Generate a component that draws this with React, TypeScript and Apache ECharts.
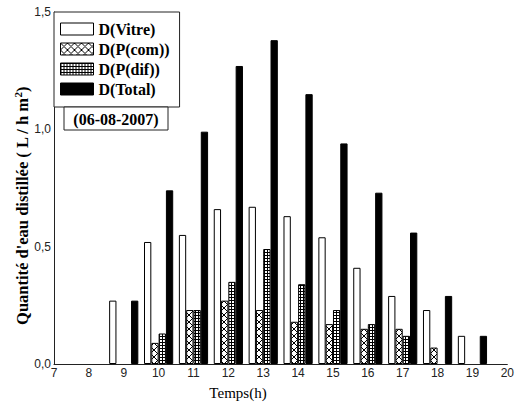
import React, { useEffect, useRef } from "react";
import * as echarts from "echarts";

const hours = [9, 10, 11, 12, 13, 14, 15, 16, 17, 18, 19];
const vitre = [0.27, 0.52, 0.55, 0.66, 0.67, 0.63, 0.54, 0.41, 0.29, 0.23, 0.12];
const pCom = [null, 0.09, 0.23, 0.27, 0.23, 0.18, 0.17, 0.15, 0.15, 0.07, null];
const pDif = [null, 0.13, 0.23, 0.35, 0.49, 0.34, 0.23, 0.17, 0.12, null, null];
const total = [0.27, 0.74, 0.99, 1.27, 1.38, 1.15, 0.94, 0.73, 0.56, 0.29, 0.12];
const seriesNames = ["D(Vitre)", "D(P(com))", "D(P(dif))", "D(Total)"];
const dateLabel = "(06-08-2007)";
const xTitle = "Temps(h)";
const yTitle = "Quantité d'eau distillée ( L / h m{sup|2})";

const SERIF = "Times New Roman, Liberation Serif, DejaVu Serif, serif";

function pairs(vals: (number | null)[]) {
  return hours
    .map((h, i) => (vals[i] == null ? null : [h, vals[i]]))
    .filter((d) => d !== null);
}

function crossPattern() {
  const c = document.createElement("canvas");
  c.width = 7;
  c.height = 7;
  const ctx = c.getContext("2d")!;
  ctx.fillStyle = "#fff";
  ctx.fillRect(0, 0, 7, 7);
  ctx.strokeStyle = "#000";
  ctx.lineWidth = 1;
  ctx.beginPath();
  ctx.moveTo(0, 0);
  ctx.lineTo(7, 7);
  ctx.moveTo(7, 0);
  ctx.lineTo(0, 7);
  ctx.stroke();
  return { image: c, repeat: "repeat", imageWidth: 7, imageHeight: 7 };
}

function gridPattern() {
  const c = document.createElement("canvas");
  c.width = 3;
  c.height = 3;
  const ctx = c.getContext("2d")!;
  ctx.fillStyle = "#fff";
  ctx.fillRect(0, 0, 3, 3);
  ctx.fillStyle = "#000";
  ctx.fillRect(0, 0, 3, 1);
  ctx.fillRect(0, 0, 1, 3);
  return { image: c, repeat: "repeat", imageWidth: 3, imageHeight: 3 };
}

export default function App() {
  const ref = useRef<HTMLDivElement>(null);
  useEffect(() => {
    const chart = echarts.init(ref.current!, null, { renderer: "svg" });
    const barBase = {
      type: "bar",
      barWidth: 7.3,
      barGap: "0%",
      itemStyle: { borderColor: "#000", borderWidth: 1 },
    };
    chart.setOption({
      animation: false,
      backgroundColor: "#fff",
      grid: { left: 54, right: 7, top: 12, bottom: 45, containLabel: false },
      xAxis: {
        type: "value",
        min: 7,
        max: 20,
        interval: 1,
        splitLine: { show: false },
        axisTick: { show: false },
        axisLine: { lineStyle: { color: "#222", width: 1 } },
        axisLabel: {
          margin: 3,
          color: "#222",
          fontFamily: "Liberation Sans",
          fontSize: 12,
        },
      },
      yAxis: {
        type: "value",
        min: 0,
        max: 1.5,
        interval: 0.5,
        splitLine: { show: false },
        axisTick: { show: false },
        axisLine: { show: true, lineStyle: { color: "#222", width: 1 } },
        axisLabel: {
          margin: 3,
          color: "#222",
          fontFamily: "Liberation Sans",
          fontSize: 12,
          formatter: (v: number) => v.toFixed(1).replace(".", ","),
        },
      },
      legend: {
        orient: "vertical",
        left: 54,
        top: 12,
        padding: [8, 10, 9, 6],
        itemWidth: 33,
        itemHeight: 12,
        itemGap: 2,
        itemStyle: { borderColor: "#000", borderWidth: 1 },
        backgroundColor: "#fff",
        borderColor: "#222",
        borderWidth: 1,
        textStyle: {
          fontFamily: SERIF,
          fontWeight: "bold",
          fontSize: 16,
          lineHeight: 18,
          color: "#000",
        },
        data: seriesNames.map((n) => ({ name: n, icon: "rect" })),
      },
      graphic: [
        {
          type: "rect",
          shape: { x: 64, y: 107, width: 104, height: 23 },
          style: { fill: "#fff", stroke: "#222", lineWidth: 1 },
          z: 100,
        },
        {
          type: "text",
          x: 116,
          y: 119,
          style: {
            text: dateLabel,
            fill: "#000",
            fontFamily: SERIF,
            fontWeight: "bold",
            fontSize: 16,
            align: "center",
            verticalAlign: "middle",
          },
          z: 101,
        },
        {
          type: "text",
          x: 22,
          y: 206,
          rotation: Math.PI / 2,
          style: {
            text: yTitle,
            fill: "#000",
            fontFamily: SERIF,
            fontWeight: "bold",
            fontSize: 16.5,
            align: "center",
            verticalAlign: "middle",
            rich: {
              sup: {
                fontFamily: SERIF,
                fontWeight: "bold",
                fontSize: 11,
                verticalAlign: "top",
                padding: [0, 0, 9, 0],
              },
            },
          },
        },
        {
          type: "text",
          x: 238,
          y: 393,
          style: {
            text: xTitle,
            fill: "#000",
            fontFamily: SERIF,
            fontSize: 15,
            align: "center",
            verticalAlign: "middle",
          },
        },
      ],
      series: [
        { ...barBase, name: seriesNames[0], data: pairs(vitre), itemStyle: { ...barBase.itemStyle, color: "#fff" } },
        { ...barBase, name: seriesNames[1], data: pairs(pCom), itemStyle: { ...barBase.itemStyle, color: crossPattern() } },
        { ...barBase, name: seriesNames[2], data: pairs(pDif), itemStyle: { ...barBase.itemStyle, color: gridPattern() } },
        { ...barBase, name: seriesNames[3], data: pairs(total), itemStyle: { ...barBase.itemStyle, color: "#000" } },
      ],
    });
    return () => chart.dispose();
  }, []);
  return <div ref={ref} style={{ width: 517, height: 409, position: "absolute", left: 0, top: 0 }} />;
}
